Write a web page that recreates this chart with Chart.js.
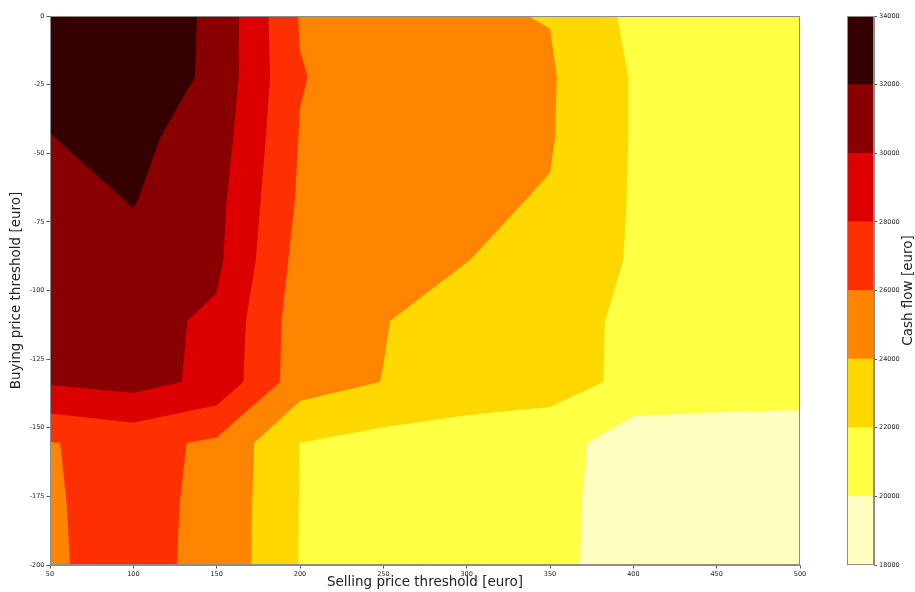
<!DOCTYPE html>
<html>
<head>
<meta charset="utf-8">
<script src="https://cdn.jsdelivr.net/npm/chart.js@4.4.1/dist/chart.umd.min.js"></script>
<style>
  html, body { margin: 0; padding: 0; background: #fff; }
  #wrap { position: relative; width: 915px; height: 592px; }
  #contour { position: absolute; left: 0; top: 0; }
  #colorbar { position: absolute; left: 830px; top: 0; }
</style>
</head>
<body>
<div id="wrap">
  <canvas id="contour" width="830" height="592"></canvas>
  <canvas id="colorbar" width="85" height="592"></canvas>
</div>
<script>
// ===== Carte du cash flow selon les seuils de vente / d'achat (contour rempli) =====

// grille des seuils
const sellingPrices = [50, 100, 150, 200, 250, 300, 350, 400, 450, 500];
const buyingPrices = [0, -22.2, -44.4, -66.7, -88.9, -111.1, -133.3, -155.6, -177.8, -200];

// cash flow [euro], une ligne par seuil d'achat, une colonne par seuil de vente
const cashFlow = [
  [33000, 33573, 31514, 25864, 25000, 24140, 23950, 21525, 21200, 21000],
  [32345, 33700, 31400, 26100, 25000, 24500, 24190, 21860, 21300, 21100],
  [31970, 32462, 31020, 25900, 25000, 24500, 24136, 21864, 21300, 21100],
  [31340, 32090, 30590, 25700, 24900, 24265, 23897, 21835, 21300, 21100],
  [31200, 31490, 30410, 25282, 24700, 24050, 22800, 21891, 21300, 21100],
  [30900, 30650, 29650, 24955, 24100, 22850, 22500, 21742, 21300, 21100],
  [30215, 30752, 29456, 24908, 23962, 22900, 22700, 21606, 21250, 21100],
  [25914, 26620, 25650, 21980, 21311, 21249, 21000, 18753, 18700, 18709],
  [25850, 26600, 25520, 21950, 21300, 21200, 20950, 18450, 18500, 18550],
  [25810, 26600, 25450, 21930, 21300, 21200, 20900, 18400, 18450, 18500]
];

// niveaux du contour et couleurs (hot_r)
const levels = [18000, 20000, 22000, 24000, 26000, 28000, 30000, 32000, 34000];
const bandColors = ["#ffffc0", "#ffff43", "#ffd800", "#ff8400", "#ff3000", "#dc0000", "#880000", "#340000"];

Chart.defaults.font.family = '"DejaVu Sans", sans-serif';
Chart.defaults.color = "#222";

// garde la partie d'un polygone où z >= niveau (interpolation linéaire sur les côtés)
function clipAbove(poly, level) {
  const out = [];
  for (let n = 0; n < poly.length; n++) {
    const a = poly[n], b = poly[(n + 1) % poly.length];
    const ina = a[2] >= level, inb = b[2] >= level;
    if (ina) out.push(a);
    if (ina !== inb) {
      const t = (level - a[2]) / (b[2] - a[2]);
      out.push([a[0] + t * (b[0] - a[0]), a[1] + t * (b[1] - a[1]), level]);
    }
  }
  return out;
}

const contourPlugin = {
  id: "contourFill",
  beforeDatasetsDraw(chart) {
    const { ctx, chartArea: area, scales: { x, y } } = chart;
    ctx.save();
    ctx.beginPath();
    ctx.rect(area.left, area.top, area.width, area.height);
    ctx.clip();
    bandColors.forEach((couleur, k) => {
      ctx.beginPath();
      for (let j = 0; j < buyingPrices.length - 1; j++) {
        for (let i = 0; i < sellingPrices.length - 1; i++) {
          const quad = [
            [sellingPrices[i], buyingPrices[j], cashFlow[j][i]],
            [sellingPrices[i + 1], buyingPrices[j], cashFlow[j][i + 1]],
            [sellingPrices[i + 1], buyingPrices[j + 1], cashFlow[j + 1][i + 1]],
            [sellingPrices[i], buyingPrices[j + 1], cashFlow[j + 1][i]]
          ];
          const poly = clipAbove(quad, levels[k]);
          if (poly.length < 3) continue;
          poly.forEach(([vx, vy], n) => {
            const px = x.getPixelForValue(vx), py = y.getPixelForValue(vy);
            if (n) ctx.lineTo(px, py); else ctx.moveTo(px, py);
          });
          ctx.closePath();
        }
      }
      ctx.fillStyle = couleur;
      ctx.fill();
    });
    ctx.restore();

    // cadre autour du graphique
    ctx.save();
    ctx.strokeStyle = "#8c8c8c";
    ctx.lineWidth = 1;
    ctx.strokeRect(area.left + 0.5, area.top + 0.5, area.width - 1, area.height - 1);
    ctx.restore();
  }
};

new Chart(document.getElementById("contour"), {
  type: "scatter",
  data: { datasets: [] },
  options: {
    responsive: false,
    animation: false,
    layout: { padding: { left: 0, right: 30, top: 16, bottom: 0 } },
    plugins: { legend: { display: false }, tooltip: { enabled: false } },
    scales: {
      x: {
        type: "linear",
        min: 50,
        max: 500,
        ticks: { stepSize: 50, font: { size: 6.5 }, padding: 2, maxRotation: 0, callback: v => String(v) },
        grid: { drawOnChartArea: false, tickLength: 3.5, color: "#555" },
        border: { color: "#8c8c8c" },
        title: { display: true, text: "Selling price threshold [euro]", font: { size: 13.5 }, padding: { top: 0, bottom: 1 } },
        afterFit(s) { s.height = 27; }
      },
      y: {
        type: "linear",
        min: -200,
        max: 0,
        ticks: { stepSize: 25, font: { size: 6.5 }, padding: 2, callback: v => String(v) },
        grid: { drawOnChartArea: false, tickLength: 3.5, color: "#555" },
        border: { color: "#8c8c8c" },
        title: { display: true, text: "Buying price threshold [euro]", font: { size: 13.5 }, padding: { top: 8, bottom: 0 } },
        afterFit(s) { s.width = 50; }
      }
    }
  },
  plugins: [contourPlugin]
});

// ---- barre de couleurs ----
const colorbarFrame = {
  id: "colorbarFrame",
  afterDraw(chart) {
    const { ctx, chartArea: area } = chart;
    ctx.save();
    ctx.strokeStyle = "#8c8c8c";
    ctx.lineWidth = 1;
    ctx.strokeRect(area.left + 0.5, area.top + 0.5, area.width - 1, area.height - 1);
    ctx.translate(78, (area.top + area.bottom) / 2);
    ctx.rotate(-Math.PI / 2);
    ctx.fillStyle = "#222";
    ctx.font = '13.5px "DejaVu Sans", sans-serif';
    ctx.textAlign = "center";
    ctx.textBaseline = "middle";
    ctx.fillText("Cash flow [euro]", 0, 0);
    ctx.restore();
  }
};

new Chart(document.getElementById("colorbar"), {
  type: "bar",
  data: {
    labels: [""],
    datasets: bandColors.map((couleur, k) => ({
      data: [[levels[k], levels[k + 1]]],
      backgroundColor: couleur,
      borderWidth: 0,
      grouped: false,
      barPercentage: 1,
      categoryPercentage: 1
    }))
  },
  options: {
    responsive: false,
    animation: false,
    layout: { padding: { left: 17, right: 0, top: 16, bottom: 27 } },
    plugins: { legend: { display: false }, tooltip: { enabled: false } },
    scales: {
      x: { display: false },
      y: {
        position: "right",
        min: 18000,
        max: 34000,
        ticks: { stepSize: 2000, font: { size: 6.5 }, padding: 2, callback: v => String(v) },
        grid: { drawOnChartArea: false, tickLength: 3, color: "#555" },
        border: { color: "#8c8c8c" },
        afterFit(s) { s.width = 41; }
      }
    }
  },
  plugins: [colorbarFrame]
});
</script>
</body>
</html>
